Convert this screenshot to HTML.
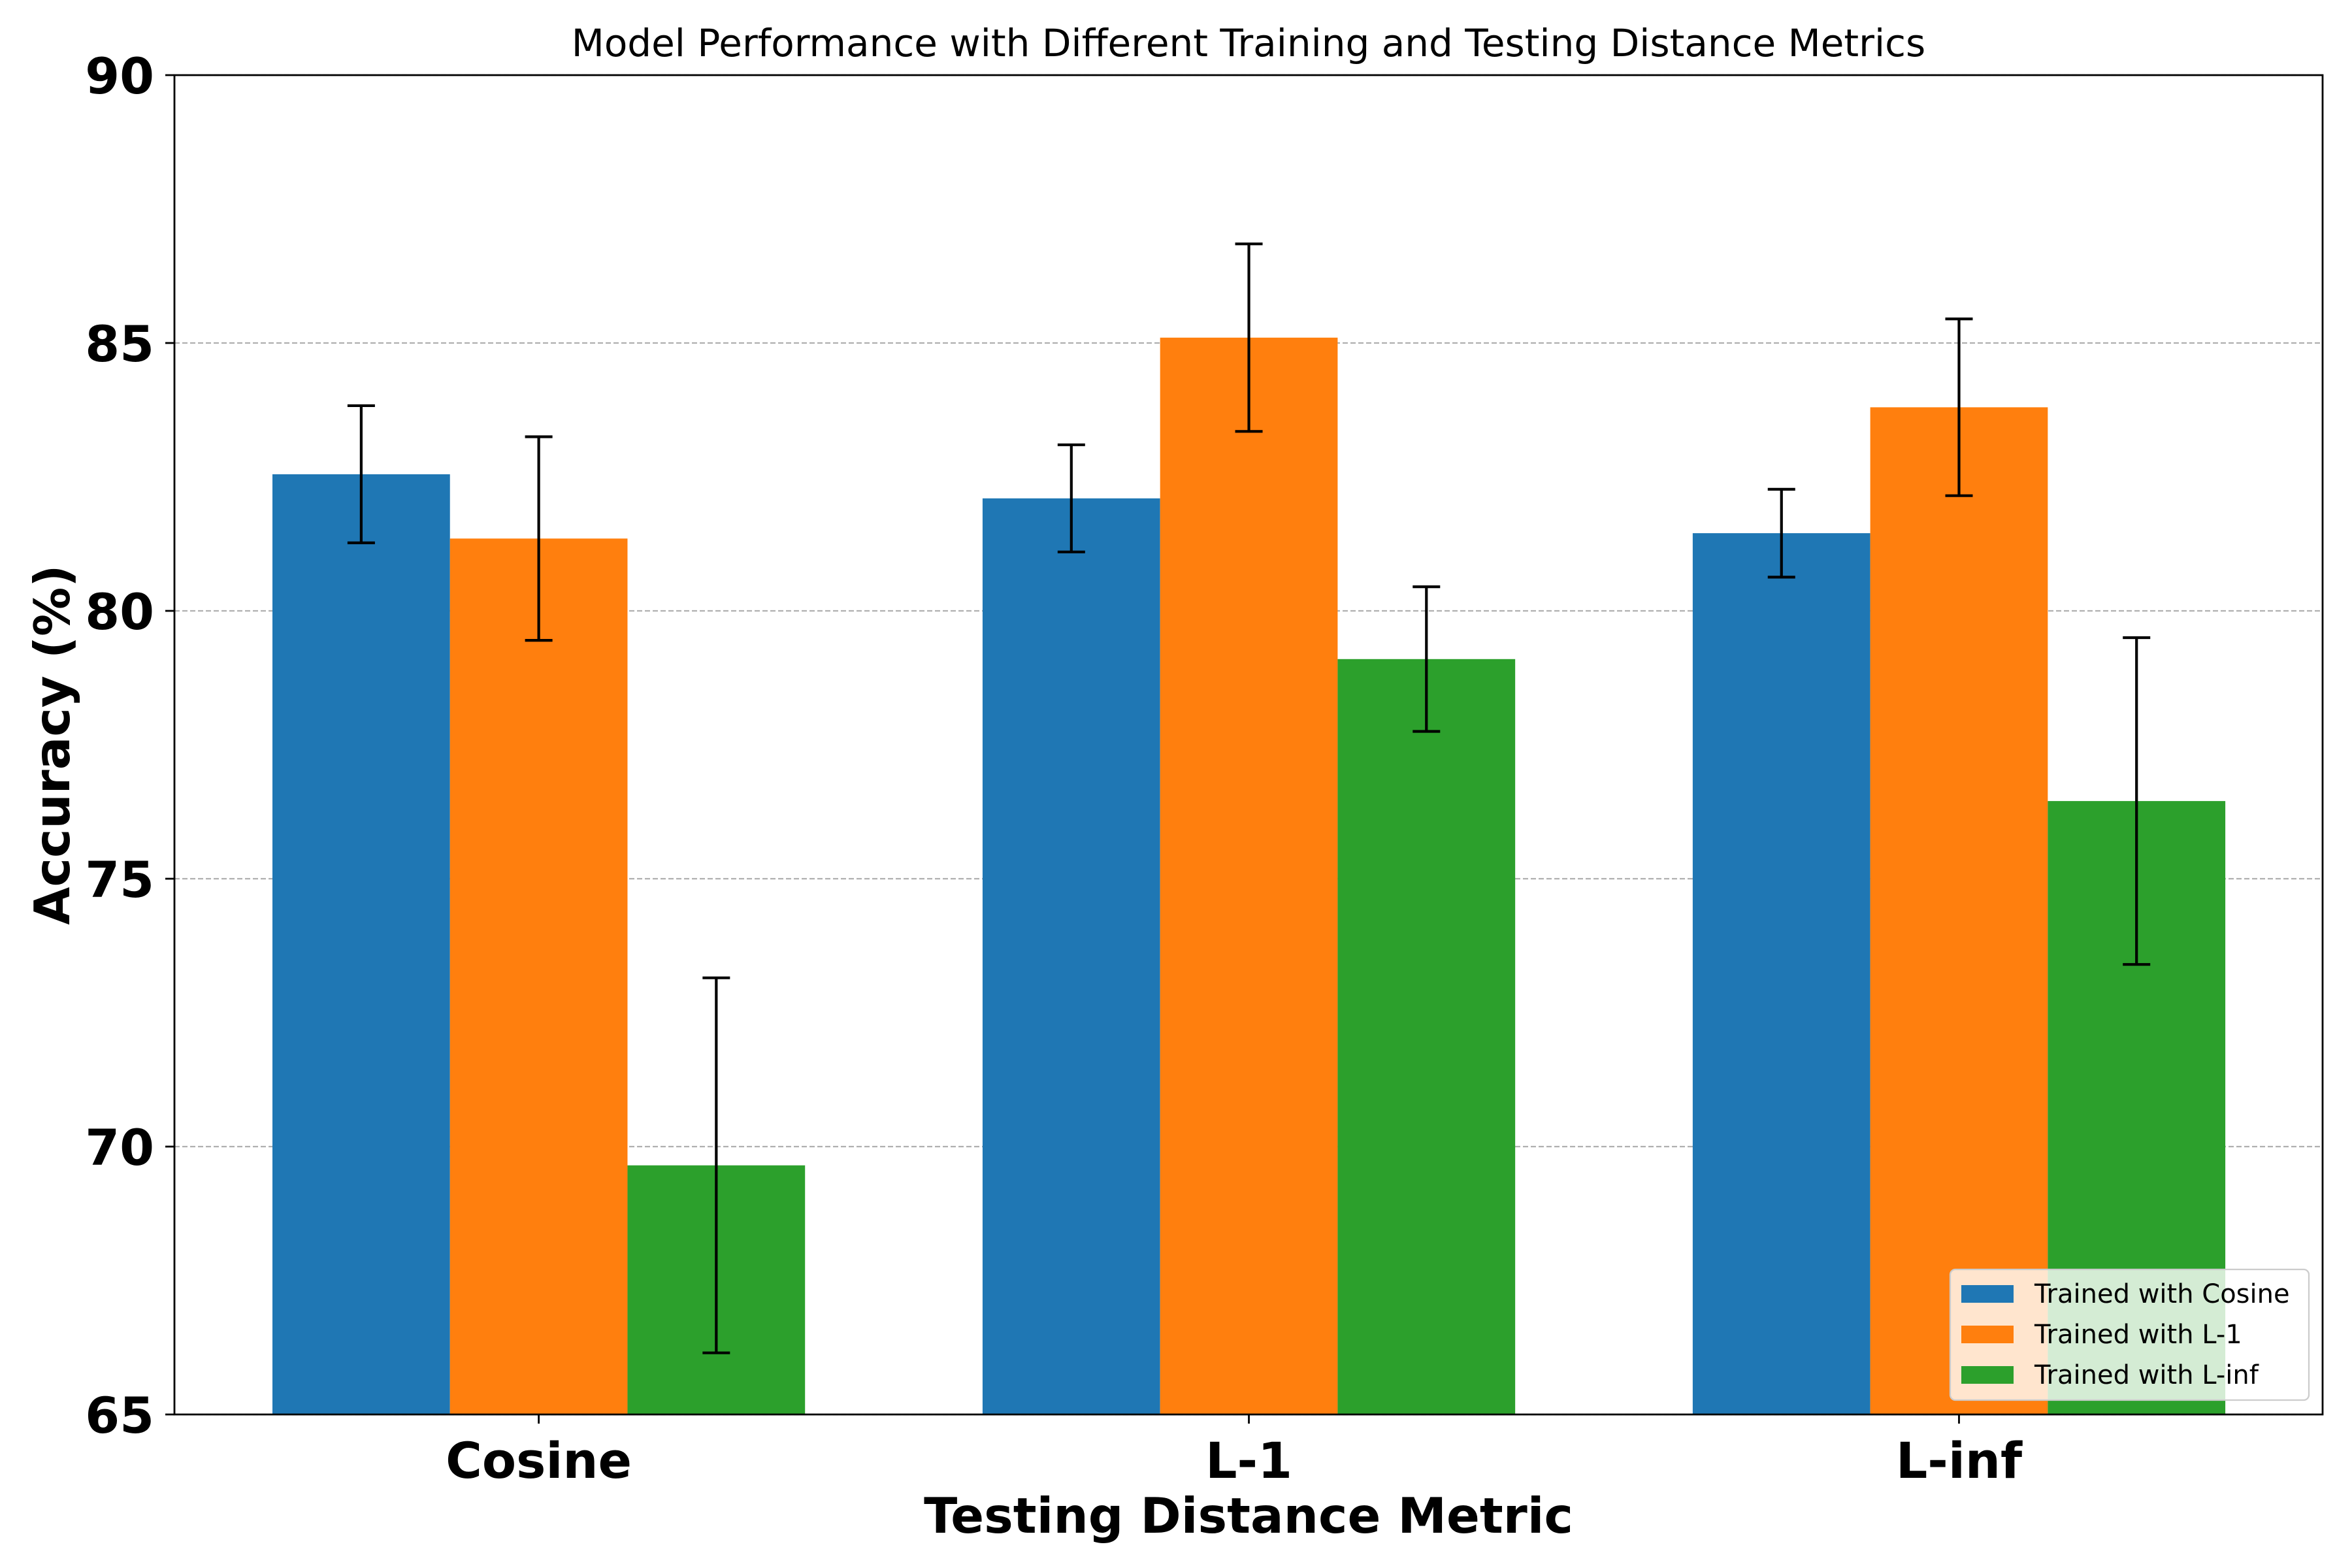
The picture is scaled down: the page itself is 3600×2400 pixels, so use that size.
<!DOCTYPE html>
<html><head><meta charset="utf-8"><style>
html,body{margin:0;padding:0;background:#fff;}
svg{display:block;font-family:"DejaVu Sans","Liberation Sans",sans-serif;}
</style></head><body>
<svg id="chart" width="3600" height="2400" viewBox="0 0 3600 2400" xmlns="http://www.w3.org/2000/svg"></svg>
<script>
const categories = ["Cosine", "L-1", "L-inf"];
const seriesNames = ["Trained with Cosine", "Trained with L-1", "Trained with L-inf"];
const cosineVals = [82.55, 82.1, 81.45];
const l1Vals = [81.35, 85.1, 83.8];
const linfVals = [69.65, 79.1, 76.45];
const cosineErr = [1.28, 1.0, 0.82];
const l1Err = [1.9, 1.75, 1.65];
const linfErr = [3.5, 1.35, 3.05];
const yTicks = [65, 70, 75, 80, 85, 90];

const colors = ["#1f77b4", "#ff7f0e", "#2ca02c"];
const vals = [cosineVals, l1Vals, linfVals];
const errs = [cosineErr, l1Err, linfErr];
const L = 267, R = 3555, T = 115, B = 2165;
const xmin = -0.513, xmax = 2.512, ymin = 65, ymax = 90;
const xs = v => L + (v - xmin) / (xmax - xmin) * (R - L);
const ys = v => B - (v - ymin) / (ymax - ymin) * (B - T);
const svg = document.getElementById('chart');
const NS = "http://www.w3.org/2000/svg";
function mk(tag, attrs, text) {
  const e = document.createElementNS(NS, tag);
  for (const k in attrs) e.setAttribute(k, attrs[k]);
  if (text !== undefined) e.textContent = text;
  svg.appendChild(e);
  return e;
}
yTicks.forEach(t => {
  const g = mk('line', {x1: L, x2: R, y1: ys(t), y2: ys(t), stroke: '#b0b0b0', 'stroke-width': 2.3, 'stroke-dasharray': '8,4'});
  
  
});
const w = 0.25;
vals.forEach((arr, s) => {
  arr.forEach((v, i) => {
    const c = i + (s - 1) * w;
    const r = mk('rect', {x: xs(c - w / 2), y: ys(v), width: xs(c + w / 2) - xs(c - w / 2), height: ys(ymin) - ys(v), fill: colors[s]});
    
    
  });
});
vals.forEach((arr, s) => {
  arr.forEach((v, i) => {
    const c = xs(i + (s - 1) * w);
    const e = errs[s][i];
    const g = document.createElementNS(NS, 'g');
    
    
    svg.appendChild(g);
    const add = (x1, y1, x2, y2) => { const l = document.createElementNS(NS, 'line'); l.setAttribute('x1', x1); l.setAttribute('x2', x2); l.setAttribute('y1', y1); l.setAttribute('y2', y2); l.setAttribute('stroke', '#000'); l.setAttribute('stroke-width', 4.2); g.appendChild(l); };
    add(c, ys(v - e), c, ys(v + e));
    add(c - 21, ys(v - e), c + 21, ys(v - e));
    add(c - 21, ys(v + e), c + 21, ys(v + e));
  });
});
const fr = mk('rect', {x: L, y: T, width: R - L, height: B - T, fill: 'none', stroke: '#000', 'stroke-width': 2.8});


yTicks.forEach(t => {
  mk('line', {x1: L - 14, x2: L, y1: ys(t), y2: ys(t), stroke: '#000', 'stroke-width': 2.8});
  const tx = mk('text', {x: 236, y: ys(t) + 28, 'text-anchor': 'end', 'font-size': 76, 'font-weight': 'bold'}, String(t));
  
  
});
categories.forEach((c, i) => {
  mk('line', {x1: xs(i), x2: xs(i), y1: B, y2: B + 14, stroke: '#000', 'stroke-width': 2.8});
  const tx = mk('text', {x: xs(i), y: 2262, 'text-anchor': 'middle', 'font-size': 76, 'font-weight': 'bold'}, c);
  
  
});
const xt = mk('text', {x: (L + R) / 2, y: 2346, 'text-anchor': 'middle', 'font-size': 75, 'font-weight': 'bold'}, 'Testing Distance Metric');


const yt = mk('text', {x: 0, y: 0, 'text-anchor': 'middle', 'font-size': 75, 'font-weight': 'bold', transform: 'translate(106,' + ((T + B) / 2) + ') rotate(-90)'}, 'Accuracy (%)');


const ti = mk('text', {x: (L + R) / 2, y: 86, 'text-anchor': 'middle', 'font-size': 58}, 'Model Performance with Different Training and Testing Distance Metrics');


const lg = mk('rect', {x: 2985, y: 1943, width: 549, height: 200, rx: 8, fill: '#fff', 'fill-opacity': 0.8, stroke: '#ccc', 'stroke-width': 2.3});


seriesNames.forEach((n, s) => {
  const y = 1980 + s * 62;
  const sw = mk('rect', {x: 3002, y: y - 13, width: 80, height: 27, fill: colors[s]});
  
  
  const t = mk('text', {x: 3114, y: y + 14, 'font-size': 40}, n);
  
  
});
</script>
</body></html>
